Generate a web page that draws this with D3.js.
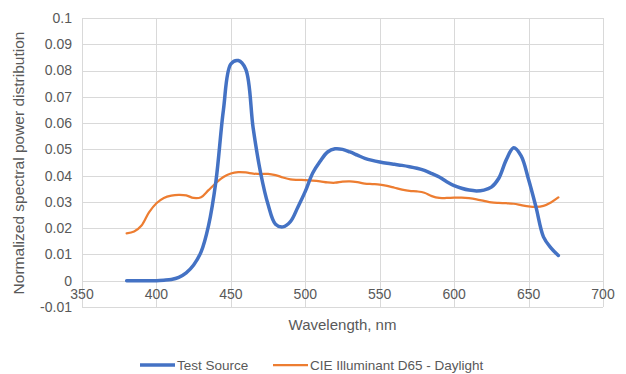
<!DOCTYPE html>
<html>
<head>
<meta charset="utf-8">
<script src="https://cdn.jsdelivr.net/npm/d3@7"></script>
<style>
  body { margin: 0; background: #fff; }
  svg text { font-family: "Liberation Sans", Arial, sans-serif; fill: #595959; }
</style>
</head>
<body>
<div id="chart"></div>
<script>
const wavelengths = d3.range(380, 671, 5);

const testSource = [
  0, 0, 0, 0, 0, 0.0002, 0.0005, 0.0013, 0.003, 0.006,
  0.011, 0.021, 0.038, 0.065, 0.0825, 0.0838, 0.0805, 0.058, 0.041, 0.029,
  0.0215, 0.0205, 0.0225, 0.028, 0.034, 0.041, 0.0455, 0.049, 0.0502, 0.05,
  0.049, 0.0478, 0.0466, 0.0458, 0.0452, 0.0447, 0.0443, 0.0439, 0.0434, 0.0428,
  0.042, 0.0408, 0.0395, 0.0377, 0.0362, 0.0352, 0.0345, 0.0342, 0.0345, 0.0356,
  0.039, 0.046, 0.0506, 0.0475, 0.0385, 0.028, 0.0167, 0.0125, 0.0096
];

const d65 = [
  0.018, 0.0187, 0.021, 0.026, 0.0295, 0.0315, 0.0324, 0.0327, 0.0325, 0.0315,
  0.0318, 0.0345, 0.0372, 0.0395, 0.0408, 0.0413, 0.0412, 0.0408, 0.0406, 0.0407,
  0.0402, 0.0393, 0.0386, 0.0384, 0.0383, 0.0381, 0.0378, 0.0374, 0.0373, 0.0377,
  0.0378, 0.0375, 0.037, 0.0368, 0.0366, 0.0361, 0.0354, 0.0347, 0.0342, 0.034,
  0.0335, 0.0322, 0.0315, 0.0315, 0.0316, 0.0316, 0.0314, 0.031, 0.0304, 0.0298,
  0.0296, 0.0295, 0.0293, 0.0288, 0.0283, 0.0281, 0.0285, 0.0298, 0.0317
];

const xTicks = [350, 400, 450, 500, 550, 600, 650, 700];
const yTicks = [-0.01, 0, 0.01, 0.02, 0.03, 0.04, 0.05, 0.06, 0.07, 0.08, 0.09, 0.1];

const series = [
  { name: "Test Source", values: testSource, color: "#4472C4", width: 3.5 },
  { name: "CIE Illuminant D65 - Daylight", values: d65, color: "#ED7D31", width: 2.25 }
];

const W = 626, H = 374;
const plot = { left: 82, right: 603, top: 18, bottom: 307 };

const svg = d3.select("#chart").append("svg")
  .attr("width", W)
  .attr("height", H);

const x = d3.scaleLinear().domain([350, 700]).range([plot.left, plot.right]);
const y = d3.scaleLinear().domain([-0.01, 0.1]).range([plot.bottom, plot.top]);

// gridlines
svg.append("g")
  .selectAll("line.h")
  .data(yTicks)
  .enter().append("line")
  .attr("x1", plot.left).attr("x2", plot.right)
  .attr("y1", d => Math.round(y(d)) + 0.5).attr("y2", d => Math.round(y(d)) + 0.5)
  .attr("stroke", "#d9d9d9").attr("stroke-width", 1);

svg.append("g")
  .selectAll("line.v")
  .data(xTicks)
  .enter().append("line")
  .attr("y1", plot.top).attr("y2", plot.bottom)
  .attr("x1", d => Math.round(x(d)) + 0.5).attr("x2", d => Math.round(x(d)) + 0.5)
  .attr("stroke", "#d9d9d9").attr("stroke-width", 1);

// y tick labels (plain hyphen for the negative one, as in the original)
svg.append("g")
  .selectAll("text")
  .data(yTicks)
  .enter().append("text")
  .attr("x", plot.left - 10)
  .attr("y", d => y(d))
  .attr("dy", "0.35em")
  .attr("text-anchor", "end")
  .style("font-size", "14px")
  .text(d => String(+d.toFixed(2)));

// x tick labels sit below the zero line
svg.append("g")
  .selectAll("text")
  .data(xTicks)
  .enter().append("text")
  .attr("x", d => x(d))
  .attr("y", y(0) + 18)
  .attr("text-anchor", "middle")
  .style("font-size", "14px")
  .text(d => d);

// axis titles
svg.append("text")
  .attr("x", (plot.left + plot.right) / 2)
  .attr("y", 330)
  .attr("text-anchor", "middle")
  .style("font-size", "15px")
  .text("Wavelength, nm");

svg.append("text")
  .attr("transform", `translate(24, 163) rotate(-90)`)
  .attr("text-anchor", "middle")
  .style("font-size", "15.5px")
  .text("Normalized spectral power distribution");

// lines
const line = d3.line()
  .x((d, i) => x(wavelengths[i]))
  .y(d => y(d))
  .curve(d3.curveCatmullRom.alpha(0.5));

svg.append("g")
  .selectAll("path")
  .data(series.slice().reverse())
  .enter().append("path")
  .attr("d", d => line(d.values))
  .attr("fill", "none")
  .attr("stroke", d => d.color)
  .attr("stroke-width", d => d.width)
  .attr("stroke-linecap", "round")
  .attr("stroke-linejoin", "round");

// legend
const legendX = [140, 273];
const legend = svg.append("g")
  .selectAll("g")
  .data(series)
  .enter().append("g")
  .attr("transform", (d, i) => `translate(${legendX[i]}, 365)`);

legend.append("line")
  .attr("x1", 0).attr("x2", 35)
  .attr("stroke", d => d.color)
  .attr("stroke-width", d => d.width);

legend.append("text")
  .attr("x", 37)
  .attr("dy", "0.35em")
  .style("font-size", "13.5px")
  .text(d => d.name);
</script>
</body>
</html>
